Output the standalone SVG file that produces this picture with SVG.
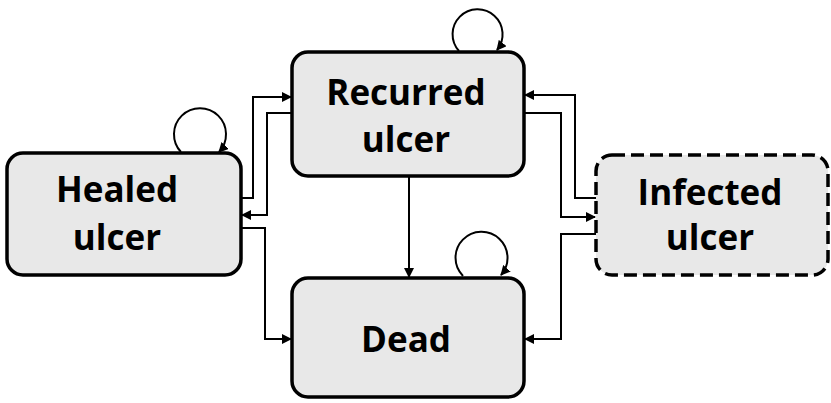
<svg xmlns="http://www.w3.org/2000/svg" width="831" height="403" viewBox="0 0 831 403">
<style>
.node{fill:#e8e8e8;stroke:#000;stroke-width:3.5}
.dash{stroke-dasharray:13 6}
.lbl{font-family:"Open Sans",Lato,sans-serif;font-weight:bold;font-size:35px;fill:#000;text-anchor:middle}
.c{fill:none;stroke:#000;stroke-width:2;marker-end:url(#ah)}
</style>
<defs>
<marker id="ah" viewBox="0 0 10 10" refX="9" refY="5" markerWidth="5" markerHeight="5" orient="auto" markerUnits="strokeWidth">
<path d="M0,0 L10,5 L0,10 z" fill="#000"/>
</marker>
</defs>
<g id="connectors">
<path class="c" d="M241,198 H253 V97 H291"/>
<path class="c" d="M292,113 H267 V215 H242"/>
<path class="c" d="M241,228 H265 V339 H291"/>
<path class="c" d="M596,198 H575 V95 H525"/>
<path class="c" d="M524,113 H561 V217 H595"/>
<path class="c" d="M596,234 H561 V339 H525"/>
<path class="c" d="M409,176 V277"/>
<path class="c" d="M181,152 A26,26 0 1 1 219,152"/>
<path class="c" d="M459,51 A25,25 0 1 1 497,50"/>
<path class="c" d="M463,276 A26,26 0 1 1 501,275"/>
</g>
<g id="healed">
<rect class="node" x="7" y="153" width="234" height="122" rx="16"/>
<text class="lbl" x="117" y="202">Healed</text>
<text class="lbl" x="117" y="250">ulcer</text>
</g>
<g id="recurred">
<rect class="node" x="292" y="52" width="232" height="124" rx="16"/>
<text class="lbl" x="406" y="105">Recurred</text>
<text class="lbl" x="406" y="152">ulcer</text>
</g>
<g id="dead">
<rect class="node" x="292" y="278" width="232" height="119" rx="16"/>
<text class="lbl" x="406" y="352">Dead</text>
</g>
<g id="infected">
<rect class="node dash" x="596" y="155" width="232" height="120" rx="16"/>
<text class="lbl" x="710" y="205">Infected</text>
<text class="lbl" x="710" y="250">ulcer</text>
</g>
</svg>
